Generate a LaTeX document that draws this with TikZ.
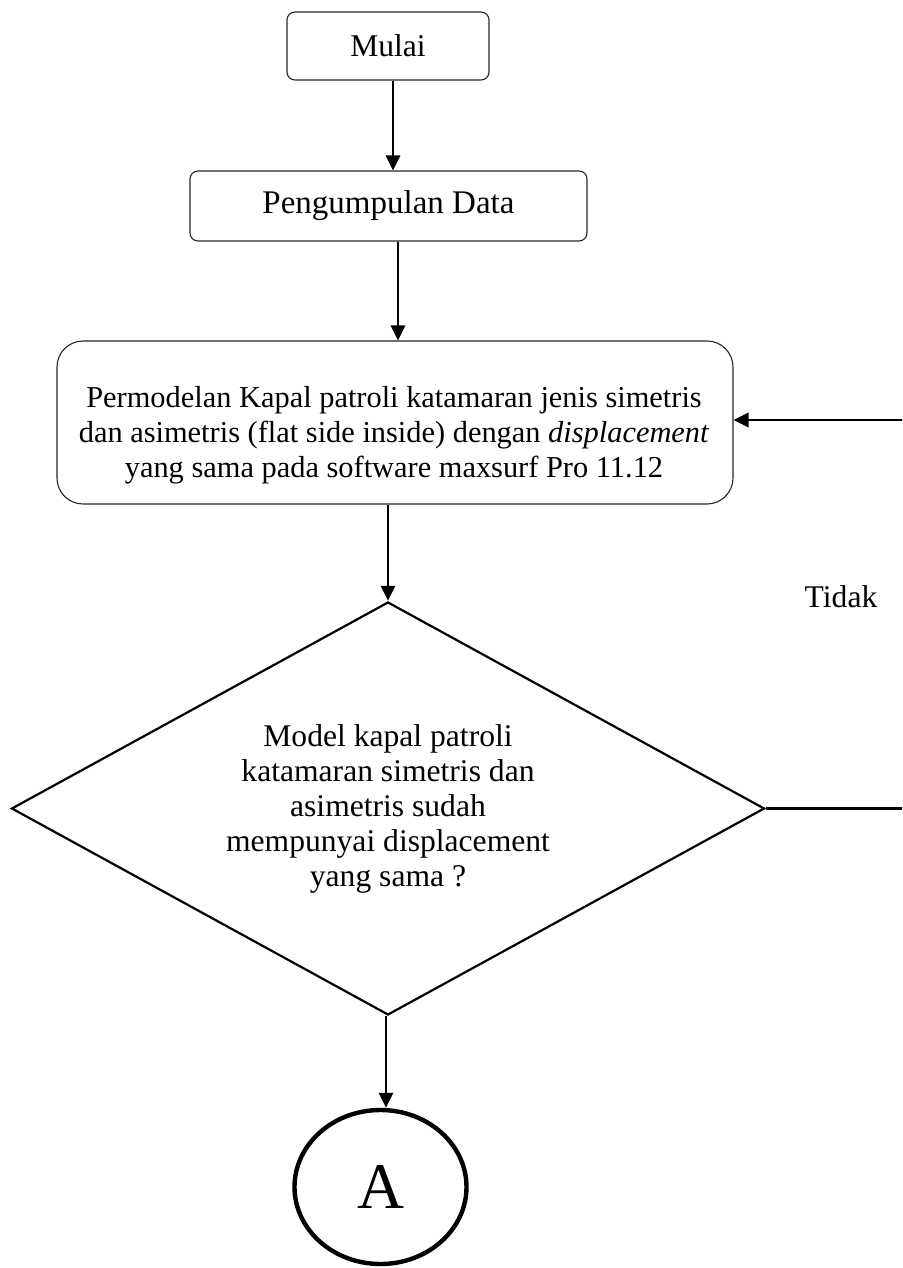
\documentclass[tikz,border=0pt]{standalone}
\usepackage{fontspec}
\setmainfont{Liberation Serif}
\usetikzlibrary{shapes.geometric,arrows.meta}
\begin{document}
\begin{tikzpicture}[x=0.5pt,y=-0.5pt,
  every node/.style={font=\fontsize{15.8pt}{17.5pt}\selectfont},
  procbox/.style={draw=black!85,line width=0.55pt,rounded corners=4pt,inner sep=0pt},
  arr/.style={line width=1.4pt,-{Triangle[length=7.5pt,width=7pt]}},
  plain/.style={line width=1.4pt}]
\clip (0,0) rectangle (902,1268);
\node[procbox,minimum width=101pt,minimum height=34pt] (mulai) at (388,46) {Mulai};
\node[procbox,minimum width=198.5pt,minimum height=35pt,font=\fontsize{16.5pt}{18pt}\selectfont] (peng) at (388.5,206) {Pengumpulan Data};
\node[procbox,rounded corners=13pt,minimum width=338pt,minimum height=81.5pt] (perm) at (395,422.5) {};
\node[align=center,inner sep=0pt,font=\fontsize{15.2pt}{17.5pt}\selectfont] (permtext) at (394,435) {Permodelan Kapal patroli katamaran jenis simetris\\dan asimetris (flat side inside) dengan \textit{displacement}\\yang sama pada software maxsurf Pro 11.12};
\node[draw,diamond,line width=1.1pt,inner sep=0pt,aspect=1.82,minimum width=376.5pt,minimum height=206.5pt,align=center] (dia) at (388,808.5) {Model kapal patroli\\katamaran simetris dan\\asimetris sudah\\mempunyai displacement\\yang sama ?};
\node[draw,ellipse,line width=2.2pt,inner sep=0pt,minimum width=86pt,minimum height=77pt,font=\fontsize{32.5pt}{36pt}\selectfont] (a) at (380.5,1187) {A};
\node[inner sep=0pt] (tidak) at (841,597) {Tidak};
\coordinate (rc) at (920,0);
\draw[arr] ([xshift=2.5pt]mulai.south) -- ([xshift=2.5pt]mulai.south |- peng.north);
\draw[arr] ([xshift=4.75pt]peng.south) -- ([xshift=4.75pt]peng.south |- perm.north);
\draw[arr] (dia.north |- perm.south) -- (dia.north);
\draw[arr] ([xshift=-1pt]dia.south) -- ([xshift=-1pt]dia.south |- a.north);
\draw[arr] (dia.east) -- (dia.east -| rc) |- ([yshift=1.25pt]perm.east);
\end{tikzpicture}
\end{document}
